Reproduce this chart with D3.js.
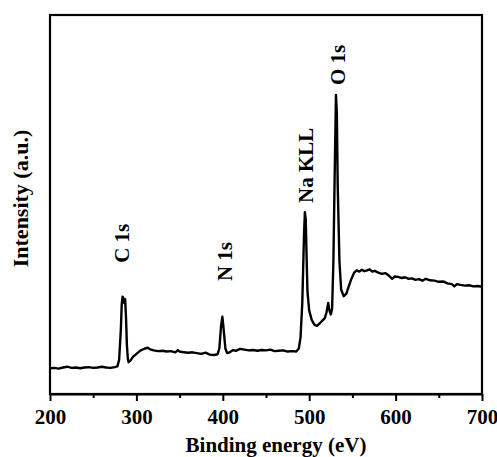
<!DOCTYPE html>
<html lang="en">
  <head>
    <meta charset="UTF-8" />
    <title>XPS survey spectrum</title>
    <script src="https://d3js.org/d3.v7.min.js"></script>
    <style>
      html,
      body {
        margin: 0;
        padding: 0;
        background-color: #fff;
      }
      svg text {
        font-family: "Liberation Serif", "Times New Roman", serif;
        font-weight: bold;
        fill: #000;
      }
    </style>
  </head>
  <body>
    <svg id="chart"></svg>
    <script>
      // binding energy (eV) and intensity (a.u.)
      const energy = [
        200, 205, 210, 215, 220, 225, 230, 235, 240, 245, 250, 255, 260, 265,
        270, 275, 278, 280, 282, 283, 284, 285, 286, 287, 288, 289, 290, 291,
        293, 296, 300, 305, 310, 313, 316, 320, 325, 330, 335, 340, 345, 348,
        350, 355, 360, 365, 370, 375, 380, 385, 390, 394, 396, 398, 399.5, 401,
        403, 405, 408, 412, 415, 420, 425, 430, 435, 440, 445, 450, 455, 460,
        465, 470, 475, 480, 485, 488, 490, 492, 493, 494, 495, 496, 497, 498,
        500, 503, 506, 509, 512, 515, 518, 520, 522, 523.5, 525, 526.5, 528,
        529.5, 531, 532, 533, 535, 537, 540, 543, 546, 549, 552, 555, 558, 561,
        564, 567, 570, 573, 576, 580, 584, 588, 592, 596, 599, 603, 607, 611,
        615, 619, 623, 627, 631, 635, 640, 645, 650, 655, 660, 665, 668, 671,
        675, 680, 685, 690, 695, 700,
      ];
      const intensity = [
        6.8, 6.9, 6.7, 7.0, 7.2, 6.9, 7.0, 6.8, 7.0, 7.1, 6.9, 7.0, 7.2, 7.0,
        6.9, 7.1, 7.3, 9.0, 17.0, 23.5, 25.7, 25.2, 24.0, 25.0, 20.0, 13.0, 9.5,
        8.4, 8.8, 9.8, 10.6, 11.5, 12.0, 12.2, 11.8, 11.5, 11.3, 11.4, 11.2,
        11.3, 11.0, 11.6, 11.2, 11.0, 10.9, 11.0, 10.8, 10.6, 10.9, 10.4, 10.3,
        10.5, 12.0, 18.0, 20.4, 17.0, 12.0, 10.8, 11.0, 11.6, 11.4, 11.9, 11.7,
        11.5, 11.6, 11.4, 11.6, 11.5, 11.7, 11.3, 11.4, 11.5, 11.2, 11.3, 11.2,
        12.0, 15.0, 24.0, 33.0, 42.0, 48.0, 46.0, 36.0, 27.0, 22.0, 19.5, 18.3,
        18.0, 18.6, 19.3, 20.0, 21.5, 24.0, 22.0, 21.0, 22.5, 35.0, 58.0, 78.9,
        74.0, 55.0, 35.0, 27.5, 25.8, 26.5, 28.5, 30.5, 32.0, 32.6, 32.3, 32.8,
        32.4, 32.6, 32.9, 32.3, 32.5, 32.0, 31.7, 31.9, 31.3, 30.4, 31.0, 30.9,
        30.6, 30.8, 30.4, 30.5, 30.1, 30.3, 29.9, 30.4, 30.0, 29.9, 29.6, 29.7,
        29.2, 29.0, 28.4, 29.0, 28.8, 28.6, 28.7, 28.4, 28.5, 28.3,
      ];

      // peak annotations
      const peakNames = ["C 1s", "N 1s", "Na KLL", "O 1s"];
      const peakEnergy = [283, 403, 496, 533];
      const peakLabelLevel = [34.6, 29.8, 50.4, 81.5];

      const majorTicks = [200, 300, 400, 500, 600, 700];
      const minorTicks = [250, 350, 450, 550, 650];

      const W = 497,
        H = 457;
      const margin = { top: 15, right: 15, bottom: 63, left: 50 };
      const width = W - margin.left - margin.right;
      const height = H - margin.top - margin.bottom;

      const svg = d3.select("#chart").attr("width", W).attr("height", H);
      const g = svg
        .append("g")
        .attr("transform", `translate(${margin.left},${margin.top})`);

      const x = d3.scaleLinear().domain([200, 700]).range([0, width]);
      const y = d3.scaleLinear().domain([0, 100]).range([height, 0]);

      // spectrum
      const pts = energy.map((e, i) => [e, intensity[i]]);
      g.append("path")
        .datum(pts)
        .attr("fill", "none")
        .attr("stroke", "#000")
        .attr("stroke-width", 2.4)
        .attr("stroke-linejoin", "round")
        .attr("d", d3.line().x((d) => x(d[0])).y((d) => y(d[1])));

      // frame
      g.append("rect")
        .attr("width", width)
        .attr("height", height)
        .attr("fill", "none")
        .attr("stroke", "#000")
        .attr("stroke-width", 2.2);

      // bottom axis, major + minor ticks
      const xAxis = g
        .append("g")
        .attr("transform", `translate(0,${height})`)
        .call(
          d3
            .axisBottom(x)
            .tickValues(majorTicks)
            .tickSize(7)
            .tickSizeOuter(0)
            .tickPadding(8)
            .tickFormat(d3.format("d"))
        );
      xAxis.select(".domain").attr("stroke-width", 2.2);
      xAxis.selectAll(".tick line").attr("stroke-width", 2);
      xAxis.selectAll(".tick text").attr("font-size", 21).attr("fill", "#000");

      const minor = g
        .append("g")
        .attr("transform", `translate(0,${height})`)
        .call(
          d3.axisBottom(x).tickValues(minorTicks).tickSize(4).tickFormat("")
        );
      minor.select(".domain").remove();
      minor.selectAll(".tick line").attr("stroke-width", 2);

      // axis titles
      g.append("text")
        .attr("x", width / 2 + 10)
        .attr("y", height + 58)
        .attr("text-anchor", "middle")
        .attr("font-size", 21)
        .text("Binding energy (eV)");

      g.append("text")
        .attr("transform", `translate(${-22},${height / 2 - 6}) rotate(-90)`)
        .attr("text-anchor", "middle")
        .attr("font-size", 22)
        .text("Intensity (a.u.)");

      // peak labels
      g.selectAll(".peak")
        .data(peakNames)
        .enter()
        .append("text")
        .attr("class", "peak")
        .attr(
          "transform",
          (d, i) =>
            `translate(${x(peakEnergy[i]) + 7},${y(peakLabelLevel[i])}) rotate(-90)`
        )
        .attr("font-size", 21)
        .text((d) => d);
    </script>
  </body>
</html>
